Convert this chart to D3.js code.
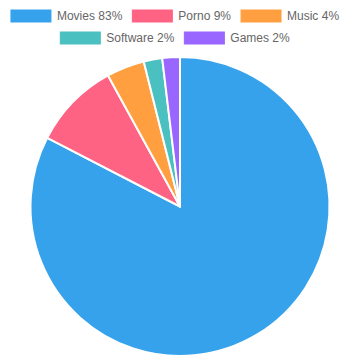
<!doctype html>
<html lang="en">
<head>
<meta charset="utf-8">
<title>Pie</title>
<script src="https://cdn.jsdelivr.net/npm/d3@7"></script>
<style>
  body { margin: 0; background: #fff; }
  text { font-family: "Liberation Sans", Arial, Helvetica, sans-serif; }
</style>
</head>
<body>
<script>
    // data
    var categories = ["Movies", "Porno", "Music", "Software", "Games"];
    var shares = [82.6, 9.4, 4.1, 2.0, 1.9];
    var colors = ["#36a2eb", "#ff6384", "#ff9f40", "#4bc0c0", "#9966ff"];

    var W = 360, H = 360;
    var svg = d3.select("body").append("svg")
            .attr("width", W).attr("height", H);

    var data = categories.map(function(c, i){
        return {label: c + " " + Math.round(shares[i]) + "%", value: shares[i], color: colors[i]};
    });

    // legend, laid out like chart.js: box 40x12, 10px padding, rows centred
    var boxW = 40, fs = 12, pad = 10;
    var legend = svg.append("g");
    var items = legend.selectAll("g").data(data).enter().append("g");
    items.append("rect")
        .attr("width", boxW).attr("height", fs)
        .attr("fill", function(d){return d.color;})
        .attr("stroke", function(d){return d.color;})
        .attr("stroke-width", 1);
    items.append("text")
        .attr("x", boxW + fs / 2)
        .attr("y", fs / 2)
        .attr("dy", "0.35em")
        .attr("font-size", fs)
        .attr("fill", "#666")
        .text(function(d){return d.label;});

    var rows = [[]], lineWidths = [0];
    items.each(function(d){
        var tw = d3.select(this).select("text").node().getComputedTextLength();
        d.w = boxW + fs / 2 + tw;
        var last = lineWidths.length - 1;
        if (lineWidths[last] + d.w + pad > W) { rows.push([]); lineWidths.push(0); last++; }
        lineWidths[last] += d.w + pad;
        rows[last].push(d);
    });
    rows.forEach(function(r, ri){
        var x = (W - lineWidths[ri]) / 2;
        r.forEach(function(d){ d.x = x; d.y = pad + ri * (fs + pad); x += d.w + pad; });
    });
    items.attr("transform", function(d){return "translate(" + d.x + "," + d.y + ")";});

    // pie
    var cx = 180, cy = 206.5, r = 149.5;
    var pie = d3.pie().sort(null).value(function(d){return d.value;});
    var arc = d3.arc().innerRadius(0).outerRadius(r);
    svg.append("g").attr("transform", "translate(" + cx + "," + cy + ")")
        .selectAll("path").data(pie(data)).enter().append("path")
        .attr("d", arc)
        .attr("fill", function(d){return d.data.color;})
        .attr("stroke", "#fff")
        .attr("stroke-width", 2)
        .attr("stroke-linejoin", "round");
</script>
</body>
</html>
